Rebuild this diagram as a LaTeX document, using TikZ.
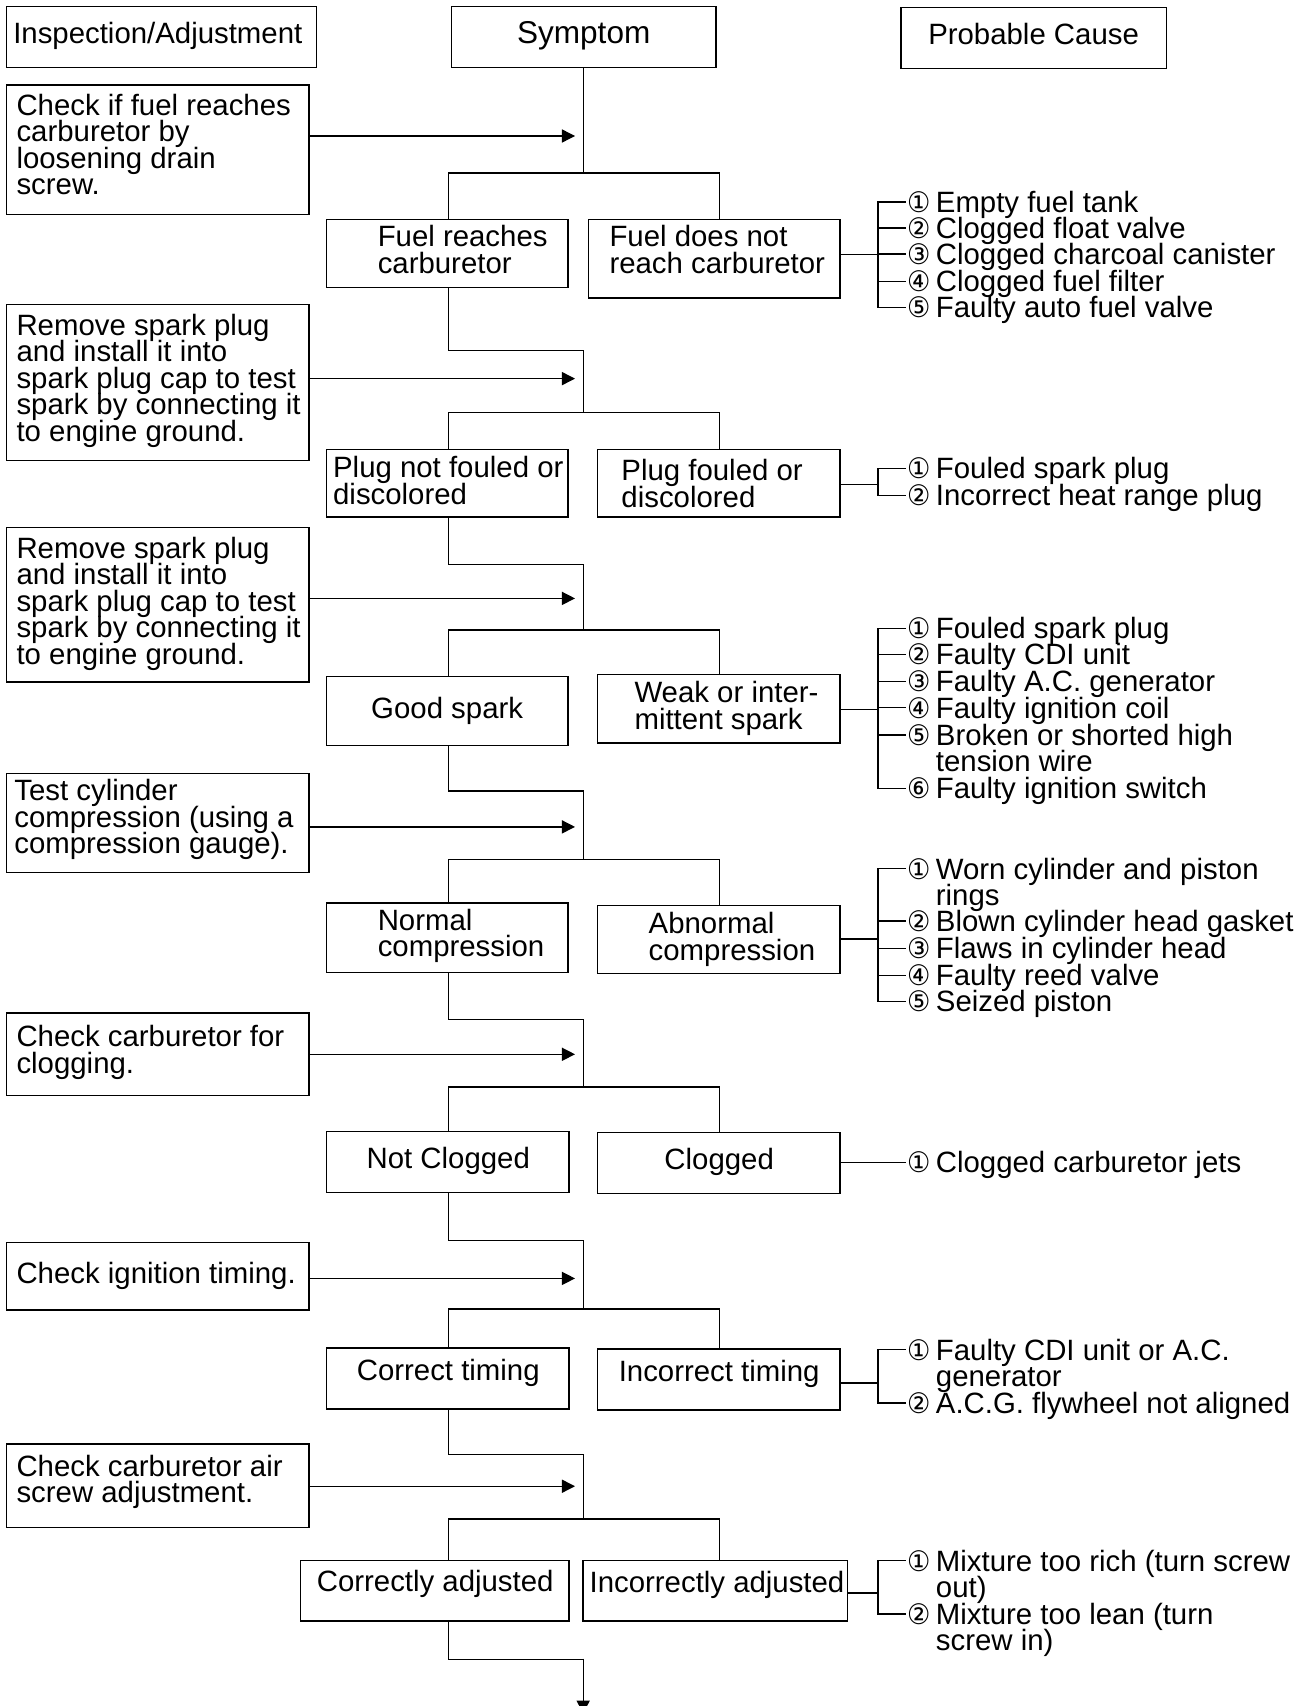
\documentclass[tikz,border=0pt]{standalone}
\usepackage{fontspec}
\usepackage{graphicx}
\setmainfont{Liberation Sans}
\newfontfamily\dvs{DejaVu Sans}
\usetikzlibrary{arrows.meta}
\tikzset{
 box/.style={draw, line width=1.3pt, inner sep=0pt, rectangle},
 ln/.style={line width=1.2pt},
 arr/.style={line width=1.2pt, -{Triangle[length=12pt,width=12pt]}},
 txt/.style={anchor=base west, inner sep=0pt, align=left, font={\fontsize{27}{24.4}\selectfont\lineskiplimit=-50pt\lineskip=0pt}},
 ctxt/.style={anchor=base, inner sep=0pt, font=\fontsize{27}{24.4}\selectfont},
 cnum/.style={anchor=base west, inner sep=0.5pt, font=\dvs\fontsize{26}{26}\selectfont},
}
\newcommand\mkbox[5]{\node[box, minimum width={(#4)-(#2)}, minimum height={(#5)-(#3)}] (#1) at ({((#2)+(#4))/2},{((#3)+(#5))/2}) {};}
% #2 baseline of number, #5 baseline of last text line
\newcommand\cz[5]{\node[cnum] (#1) at (833,#2) {\scalebox{0.92}[1]{#3}}; \node[txt] (#1t) at (860,#5) {#4};}
\begin{document}
\begin{tikzpicture}[x=1pt,y=-1pt]
\useasboundingbox (0,0) rectangle (1204,1568);
% headers
\mkbox{H1}{6}{6}{291}{62}
\mkbox{H2}{415}{6}{658}{62}
\mkbox{H3}{828}{7}{1072}{63}
\node[txt] (h1t) at (12,40) {Inspection/Adjustment};
\node[ctxt, font=\fontsize{29}{29}\selectfont] (h2t) at (536.5,40) {Symptom};
\node[ctxt] (h3t) at (950,41) {Probable Cause};
% left boxes
\mkbox{L1}{6}{78}{284}{197}
\mkbox{L2}{6}{280}{284}{423}
\mkbox{L3}{6}{485}{284}{627}
\mkbox{L4}{6}{711}{284}{802}
\mkbox{L5}{6}{931}{284}{1007}
\mkbox{L6}{6}{1142}{284}{1204}
\mkbox{L7}{6}{1327}{284}{1404}
\node[txt] (l1t) at (15,179.2) {Check if fuel reaches\\carburetor by\\loosening drain\\screw.};
\node[txt] (l2t) at (15,405.6) {Remove spark plug\\and install it into\\spark plug cap to test\\spark by connecting it\\to engine ground.};
\node[txt] (l3t) at (15,610.6) {Remove spark plug\\and install it into\\spark plug cap to test\\spark by connecting it\\to engine ground.};
\node[txt] (l4t) at (13,784.8) {Test cylinder\\compression (using a\\compression gauge).};
\node[txt] (l5t) at (15,986.4) {Check carburetor for\\clogging.};
\node[txt] (l6t) at (15,1180) {Check ignition timing.};
\node[txt] (l7t) at (15,1381.4) {Check carburetor air\\screw adjustment.};
% symptom boxes
\mkbox{S1a}{300}{202}{522}{264}
\mkbox{S1b}{541}{202}{772}{274}
\mkbox{S2a}{300}{413}{522}{475}
\mkbox{S2b}{549}{413}{772}{475}
\mkbox{S3a}{300}{622}{522}{685}
\mkbox{S3b}{549}{620}{772}{683}
\mkbox{S4a}{300}{830}{522}{894}
\mkbox{S4b}{549}{832}{772}{895}
\mkbox{S5a}{300}{1040}{523}{1096}
\mkbox{S5b}{549}{1041}{772}{1097}
\mkbox{S6a}{300}{1239}{523}{1295}
\mkbox{S6b}{549}{1240}{772}{1296}
\mkbox{S7a}{276}{1434}{523}{1490}
\mkbox{S7b}{536}{1434}{779}{1490}
\node[txt] (s1at) at (347,251.4) {Fuel reaches\\carburetor};
\node[txt] (s1bt) at (560,251.4) {Fuel does not\\reach carburetor};
\node[txt] (s2at) at (306,463.4) {Plug not fouled or\\discolored};
\node[txt] (s2bt) at (571,466.4) {Plug fouled or\\discolored};
\node[ctxt] (s3at) at (411,660) {Good spark};
\node[txt] (s3bt) at (583,670.4) {Weak or inter-\\mittent spark};
\node[txt] (s4at) at (347,879.4) {Normal\\compression};
\node[txt] (s4bt) at (596,882.4) {Abnormal\\compression};
\node[ctxt] (s5at) at (412,1074) {Not Clogged};
\node[ctxt] (s5bt) at (661,1075) {Clogged};
\node[ctxt] (s6at) at (412,1269) {Correct timing};
\node[ctxt] (s6bt) at (661,1270) {Incorrect timing};
\node[ctxt] (s7at) at (400,1463) {Correctly adjusted};
\node[ctxt] (s7bt) at (659,1464) {Incorrectly adjusted};
% arrow tips near the spine
\coordinate (a1) at (528.5,125);
\coordinate (a2) at (528.5,348);
\coordinate (a3) at (528.5,550);
\coordinate (a4) at (528.5,760);
\coordinate (a5) at (528.5,969);
\coordinate (a6) at (528.5,1175);
\coordinate (a7) at (528.5,1366);
\draw[arr] (L1.east |- a1) -- (a1);
\draw[arr] (L2.east |- a2) -- (a2);
\draw[arr] (L3.east |- a3) -- (a3);
\draw[arr] (L4.east |- a4) -- (a4);
\draw[arr] (L5.east |- a5) -- (a5);
\draw[arr] (L6.east |- a6) -- (a6);
\draw[arr] (L7.east |- a7) -- (a7);
% stage 1
\draw[ln] (H2.south) -- (536.5,159);
\draw[ln] (S1a.north -| 412,0) -- (412,159) -- (661,159) -- (S1b.north -| 661,0);
% stage 2
\draw[ln] (S1a.south -| 412,0) -- (412,322) -- (536,322) -- (536,379);
\draw[ln] (S2a.north -| 412,0) -- (412,379) -- (661,379) -- (S2b.north -| 661,0);
% stage 3
\draw[ln] (S2a.south -| 412,0) -- (412,519) -- (536,519) -- (536,579);
\draw[ln] (S3a.north -| 412,0) -- (412,579) -- (661,579) -- (S3b.north -| 661,0);
% stage 4
\draw[ln] (S3a.south -| 412,0) -- (412,727) -- (536,727) -- (536,790);
\draw[ln] (S4a.north -| 412,0) -- (412,790) -- (661,790) -- (S4b.north -| 661,0);
% stage 5
\draw[ln] (S4a.south -| 412,0) -- (412,937) -- (536,937) -- (536,999);
\draw[ln] (S5a.north -| 412,0) -- (412,999) -- (661,999) -- (S5b.north -| 661,0);
% stage 6
\draw[ln] (S5a.south -| 412,0) -- (412,1140) -- (536,1140) -- (536,1203);
\draw[ln] (S6a.north -| 412,0) -- (412,1203) -- (661,1203) -- (S6b.north -| 661,0);
% stage 7
\draw[ln] (S6a.south -| 412,0) -- (412,1337) -- (536,1337) -- (536,1396);
\draw[ln] (S7a.north -| 412,0) -- (412,1396) -- (661,1396) -- (S7b.north -| 661,0);
% end
\coordinate (endp) at (536,1575);
\draw[ln] (S7a.south -| 412,0) -- (412,1525) -- (536,1525);
\draw[arr] (536,1524.5) -- (endp);
% causes 1
\cz{c11}{195}{①}{Empty fuel tank}{195}
\cz{c12}{219}{②}{Clogged float valve}{219}
\cz{c13}{243}{③}{Clogged charcoal canister}{243}
\cz{c14}{268}{④}{Clogged fuel filter}{268}
\cz{c15}{292}{⑤}{Faulty auto fuel valve}{292}
\coordinate (b1) at (807,234);
\draw[ln] (S1b.east |- b1) -- (b1);
\foreach \k in {1,...,5} {\draw[ln] (b1) |- (c1\k.west);}
% causes 2
\cz{c21}{440}{①}{Fouled spark plug}{440}
\cz{c22}{465}{②}{Incorrect heat range plug}{465}
\coordinate (b2) at (807,445);
\draw[ln] (S2b.east |- b2) -- (b2);
\foreach \k in {1,2} {\draw[ln] (b2) |- (c2\k.west);}
% causes 3
\cz{c31}{587}{①}{Fouled spark plug}{587}
\cz{c32}{611}{②}{Faulty CDI unit}{611}
\cz{c33}{636}{③}{Faulty A.C. generator}{636}
\cz{c34}{660}{④}{Faulty ignition coil}{660}
\cz{c35}{685}{⑤}{Broken or shorted high\\tension wire}{709.4}
\cz{c36}{734}{⑥}{Faulty ignition switch}{734}
\coordinate (b3) at (807,652);
\draw[ln] (S3b.east |- b3) -- (b3);
\foreach \k in {1,...,6} {\draw[ln] (b3) |- (c3\k.west);}
% causes 4
\cz{c41}{808}{①}{Worn cylinder and piston\\rings}{832.4}
\cz{c42}{856}{②}{Blown cylinder head gasket}{856}
\cz{c43}{881}{③}{Flaws in cylinder head}{881}
\cz{c44}{906}{④}{Faulty reed valve}{906}
\cz{c45}{930}{⑤}{Seized piston}{930}
\coordinate (b4) at (807,863);
\draw[ln] (S4b.east |- b4) -- (b4);
\foreach \k in {1,...,5} {\draw[ln] (b4) |- (c4\k.west);}
% causes 5
\cz{c51}{1078}{①}{Clogged carburetor jets}{1078}
\draw[ln] (S5b.east |- c51.west) -- (c51.west);
% causes 6
\cz{c61}{1250}{①}{Faulty CDI unit or A.C.\\generator}{1274.4}
\cz{c62}{1299}{②}{A.C.G. flywheel not aligned}{1299}
\coordinate (b6) at (807,1271);
\draw[ln] (S6b.east |- b6) -- (b6);
\foreach \k in {1,2} {\draw[ln] (b6) |- (c6\k.west);}
% causes 7
\cz{c71}{1444}{①}{Mixture too rich (turn screw\\out)}{1468.4}
\cz{c72}{1493}{②}{Mixture too lean (turn\\screw in)}{1517.4}
\coordinate (b7) at (807,1464);
\draw[ln] (S7b.east |- b7) -- (b7);
\foreach \k in {1,2} {\draw[ln] (b7) |- (c7\k.west);}
\end{tikzpicture}
\end{document}
